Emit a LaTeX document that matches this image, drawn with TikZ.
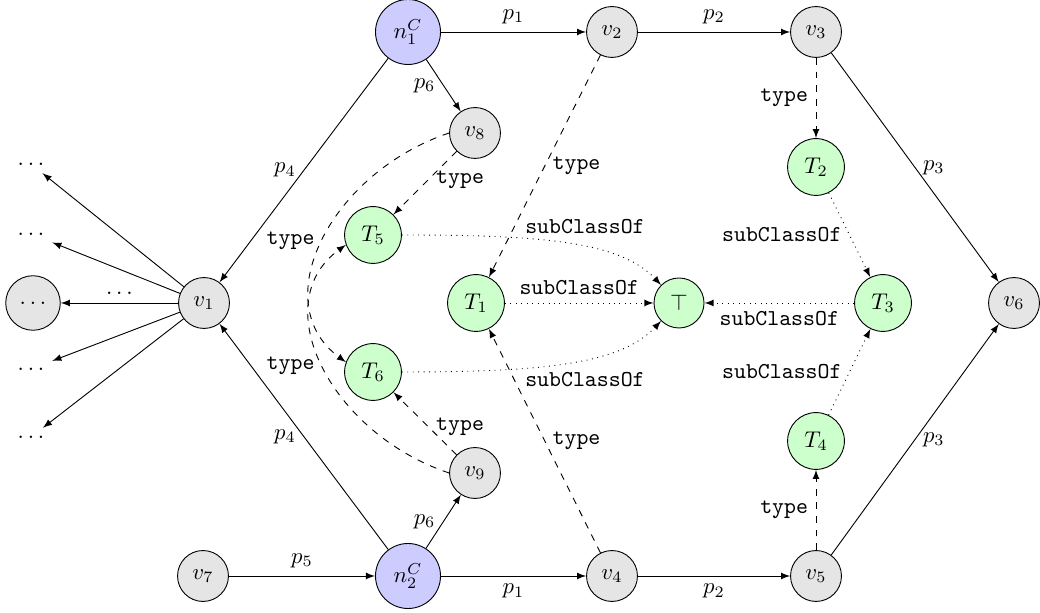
\documentclass[tikz,border=0pt]{standalone}
\usepackage{tikz}
\usetikzlibrary{positioning,calc}

\tikzset{
    vNode/.style={circle, draw, fill=gray!20, minimum size=22.4pt, inner sep=1pt},
    tNode/.style={circle, draw, fill=green!20, minimum size=25pt, inner sep=1pt},
    cNode/.style={circle, draw, fill=blue!20, minimum size=28.6pt, inner sep=1pt},
    typeEdge/.style={->, dashed},
    subEdge/.style={->, dotted}
}

\begin{document}
\begin{tikzpicture}[x=0.44pt, y=0.44pt, >=latex]
            \useasboundingbox (0,0) rectangle (1040,613);

            % class nodes
            \node[cNode] (n1) at (408,581) {$n_1^C$};
            \node[cNode] (n2) at (408,37) {$n_2^C$};

            % value nodes
            \node[vNode] (v1) at (204,310) {$v_1$};
            \node[vNode] (v2) at (612,581) {$v_2$};
            \node[vNode] (v3) at (816,581) {$v_3$};
            \node[vNode] (v4) at (612,37) {$v_4$};
            \node[vNode] (v5) at (816,37) {$v_5$};
            \node[vNode] (v6) at (1014,310) {$v_6$};
            \node[vNode] (v7) at (203,37) {$v_7$};
            \node[vNode] (v8) at (475,480) {$v_8$};
            \node[vNode] (v9) at (475,140) {$v_9$};
            \node[vNode, minimum size=24pt] (dotsMid) at (33,310) {$\dots$};

            % types
            \node[tNode] (t1) at (476,310) {$T_1$};
            \node[tNode] (t2) at (816,446) {$T_2$};
            \node[tNode] (t3) at (883,310) {$T_3$};
            \node[tNode] (t4) at (816,172) {$T_4$};
            \node[tNode] (t5) at (373,378) {$T_5$};
            \node[tNode] (t6) at (373,241) {$T_6$};
            \node[tNode, minimum size=22pt] (top) at (679,310) {$\top$};

            % fan out of v1
            \node (dots1) at (31,449) {$\dots$};
            \node (dots2) at (31,379) {$\dots$};
            \node (dots3) at (31,244) {$\dots$};
            \node (dots4) at (31,176) {$\dots$};
            \foreach \i in {1,...,4}
                \draw[->] (v1) -- (dots\i);
            \draw[->] (v1) -- node[above] {$\dots$} (dotsMid);

            % properties
            \draw[->] (n1) -- node[above] {$p_1$} (v2);
            \draw[->] (v2) -- node[above] {$p_2$} (v3);
            \draw[->] (v3) -- node[right] {$p_3$} (v6);
            \draw[->] (n2) -- node[below] {$p_1$} (v4);
            \draw[->] (v4) -- node[below] {$p_2$} (v5);
            \draw[->] (v5) -- node[right] {$p_3$} (v6);
            \draw[->] (n1) -- node[left] {$p_4$} (v1);
            \draw[->] (n2) -- node[left] {$p_4$} (v1);
            \draw[->] (v7) -- node[above] {$p_5$} (n2);
            \draw[->] (n1) -- node[left] {$p_6$} (v8);
            \draw[->] (n2) -- node[left] {$p_6$} (v9);

            % type edges
            \draw[typeEdge] (v2) -- node[right] {\texttt{type}} (t1);
            \draw[typeEdge] (v4) -- node[right] {\texttt{type}} (t1);
            \draw[typeEdge] (v3) -- node[left] {\texttt{type}} (t2);
            \draw[typeEdge] (v5) -- node[left] {\texttt{type}} (t4);
            \draw[typeEdge] (v8) -- node[pos=0.45, right] {\texttt{type}} (t5);
            \draw[typeEdge] (v9) -- node[pos=0.45, right] {\texttt{type}} (t6);
            \draw[typeEdge] (v8.west) .. controls (330,440) and (265,310) .. (t6.160)
                node[pos=0.5, left] {\texttt{type}};
            \draw[typeEdge] (v9.west) .. controls (330,180) and (265,310) .. (t5.200)
                node[pos=0.5, left] {\texttt{type}};

            % subclass edges
            \draw[subEdge] (t1) -- node[above] {\texttt{subClassOf}} (top);
            \draw[subEdge] (t3) -- node[below] {\texttt{subClassOf}} (top);
            \draw[subEdge] (t2) -- node[left] {\texttt{subClassOf}} (t3);
            \draw[subEdge] (t4) -- node[left] {\texttt{subClassOf}} (t3);
            \draw[subEdge] (t5) .. controls (540,378) and (620,372) .. (top.135)
                node[pos=0.57, above, yshift=2pt] {\texttt{subClassOf}};
            \draw[subEdge] (t6) .. controls (540,241) and (620,248) .. (top.-135)
                node[pos=0.57, below, yshift=-2pt] {\texttt{subClassOf}};
        \end{tikzpicture}
\end{document}
